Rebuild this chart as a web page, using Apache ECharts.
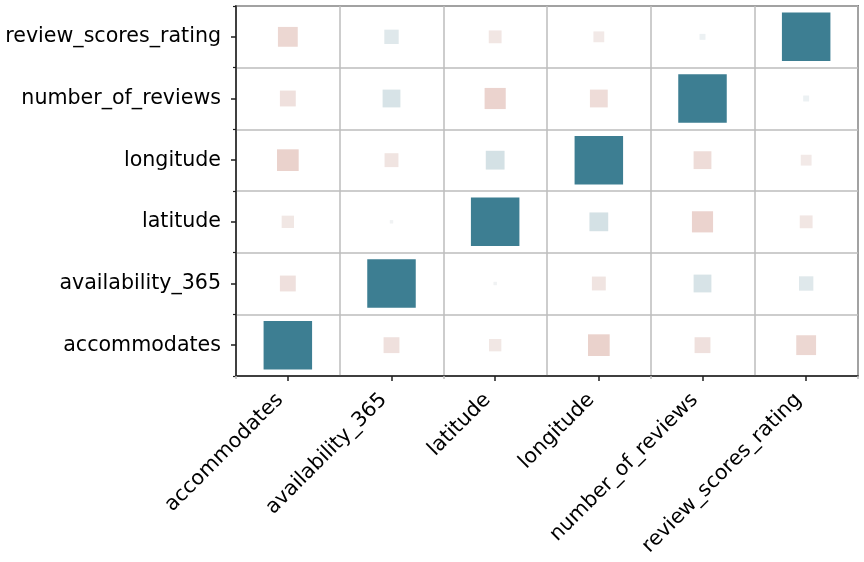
<!DOCTYPE html>
<html>
<head>
<meta charset="utf-8">
<script src="https://cdn.jsdelivr.net/npm/echarts@6/dist/echarts.min.js"></script>
<style>
html,body{margin:0;padding:0;background:#fff;}
#chart{width:864px;height:562px;}
</style>
</head>
<body>
<div id="chart"></div>
<script>
// Variables (categories), in axis order
var categories = ['accommodates', 'availability_365', 'latitude', 'longitude', 'number_of_reviews', 'review_scores_rating'];

// Correlation of each variable with the variables above (same order)
var corrAccommodates     = [1.000, -0.107, -0.065, -0.200, -0.107, -0.167];
var corrAvailability365  = [-0.107, 1.000, 0.005, -0.082, 0.135, 0.088];
var corrLatitude         = [-0.065, 0.005, 1.000, 0.150, -0.190, -0.070];
var corrLongitude        = [-0.200, -0.082, 0.150, 1.000, -0.135, -0.050];
var corrNumberOfReviews  = [-0.107, 0.135, -0.190, -0.135, 1.000, 0.015];
var corrReviewScores     = [-0.167, 0.088, -0.070, -0.050, 0.015, 1.000];

var corrRows = [corrAccommodates, corrAvailability365, corrLatitude, corrLongitude, corrNumberOfReviews, corrReviewScores];

// build scatter data [xIndex, yIndex, value]
var data = [];
for (var yi = 0; yi < corrRows.length; yi++) {
  for (var xi = 0; xi < categories.length; xi++) {
    data.push([xi, yi, corrRows[yi][xi]]);
  }
}

// diverging palette (seaborn-like 20 -> 220)
var negEnd = [193, 87, 61], negLight = [244, 239, 238], mid = [242, 242, 242];
var posLight = [237, 241, 243], posEnd = [61, 126, 146];
function lerp(a, b, t) { return [0,1,2].map(function(k){ return Math.round(a[k] + (b[k]-a[k]) * t); }); }
function hex(c) { return '#' + c.map(function(x){ return ('0' + x.toString(16)).slice(-2); }).join(''); }
var stops = [];
var N = 100;
for (var i = 0; i < N; i++) stops.push(hex(lerp(negEnd, negLight, i / (N - 1))));
stops.push(hex(mid));
for (var j = 0; j < N; j++) stops.push(hex(lerp(posLight, posEnd, j / (N - 1))));

var maxSide = 48.5;
var textColor = '#000000';
var spineColor = '#1f1f1f';
var font = 'DejaVu Sans';

var chart = echarts.init(document.getElementById('chart'), null, {renderer: 'canvas'});
chart.setOption({
  animation: false,
  backgroundColor: '#ffffff',
  grid: {
    left: 236, right: 6, top: 6, bottom: 186,
    show: true, borderColor: spineColor, borderWidth: 1.5, backgroundColor: 'transparent'
  },
  visualMap: {
    show: false, type: 'continuous', min: -1, max: 1, dimension: 2,
    inRange: { color: stops }
  },
  xAxis: [{
    type: 'category', data: categories, boundaryGap: true, position: 'bottom',
    axisLine: { show: true, lineStyle: { color: spineColor, width: 1.5 } },
    axisTick: { show: true, alignWithLabel: true, length: 5, lineStyle: { color: spineColor, width: 1.5 } },
    axisLabel: { rotate: 45, margin: 13, color: textColor, fontSize: 20.6, fontFamily: font, interval: 0, padding: [0, 11, 0, 0] },
    splitLine: { show: true, lineStyle: { color: '#bdbdbd', width: 1.5 } }
  }, {
    type: 'category', data: categories, boundaryGap: true, position: 'bottom',
    axisLine: { show: false },
    axisTick: { show: true, length: 3, lineStyle: { color: '#bdbdbd', width: 1.5 } },
    axisLabel: { show: false },
    splitLine: { show: false }
  }],
  yAxis: [{
    type: 'category', data: categories, boundaryGap: true, position: 'left',
    axisLine: { show: true, lineStyle: { color: spineColor, width: 1.5 } },
    axisTick: { show: true, alignWithLabel: true, length: 5, lineStyle: { color: spineColor, width: 1.5 } },
    axisLabel: { margin: 15, color: textColor, fontSize: 20.6, fontFamily: font, interval: 0, padding: [4, 0, 0, 0] },
    splitLine: { show: true, lineStyle: { color: '#bdbdbd', width: 1.5 } }
  }, {
    type: 'category', data: categories, boundaryGap: true, position: 'left',
    axisLine: { show: false },
    axisTick: { show: true, length: 3, lineStyle: { color: spineColor, width: 1.2 } },
    axisLabel: { show: false },
    splitLine: { show: false }
  }],
  series: [{
    type: 'scatter',
    xAxisIndex: 0, yAxisIndex: 0,
    symbol: 'rect',
    symbolSize: function (val) { return maxSide * Math.sqrt(Math.abs(val[2])); },
    data: data,
    itemStyle: { opacity: 1 },
    z: 3
  }]
});
</script>
</body>
</html>
